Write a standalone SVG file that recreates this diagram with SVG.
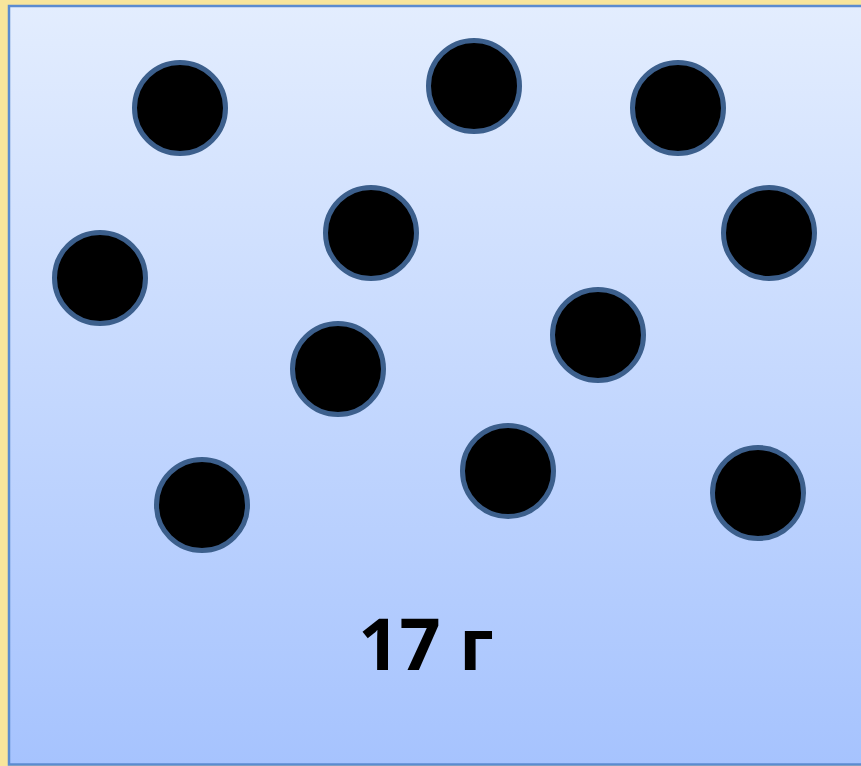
<svg xmlns="http://www.w3.org/2000/svg" width="861" height="766" viewBox="0 0 861 766">
<defs>
<linearGradient id="bg" x1="0" y1="0" x2="0" y2="1">
<stop offset="0" stop-color="#e3edfe"/>
<stop offset="1" stop-color="#a6c3fe"/>
</linearGradient>
<style>
.p{fill:#000;stroke:#3c5f8c;stroke-width:5}
.t{font-family:"Open Sans",sans-serif;font-weight:bold;font-size:72px;fill:#000}
</style>
</defs>
<rect x="0" y="0" width="861" height="766" fill="#f8e59c"/>
<rect x="9" y="6" width="860" height="758.5" fill="url(#bg)" stroke="#5b8bd0" stroke-width="2.5"/>
<g id="particles">
<circle class="p" cx="180" cy="108" r="45.5"/>
<circle class="p" cx="474" cy="86" r="45.5"/>
<circle class="p" cx="678" cy="108" r="45.5"/>
<circle class="p" cx="371" cy="233" r="45.5"/>
<circle class="p" cx="769" cy="233" r="45.5"/>
<circle class="p" cx="100" cy="278" r="45.5"/>
<circle class="p" cx="598" cy="335" r="45.5"/>
<circle class="p" cx="338" cy="369" r="45.5"/>
<circle class="p" cx="202" cy="505" r="45.5"/>
<circle class="p" cx="508" cy="471" r="45.5"/>
<circle class="p" cx="758" cy="493" r="45.5"/>
</g>
<text class="t" x="426" y="670" text-anchor="middle">17 г</text>
</svg>
